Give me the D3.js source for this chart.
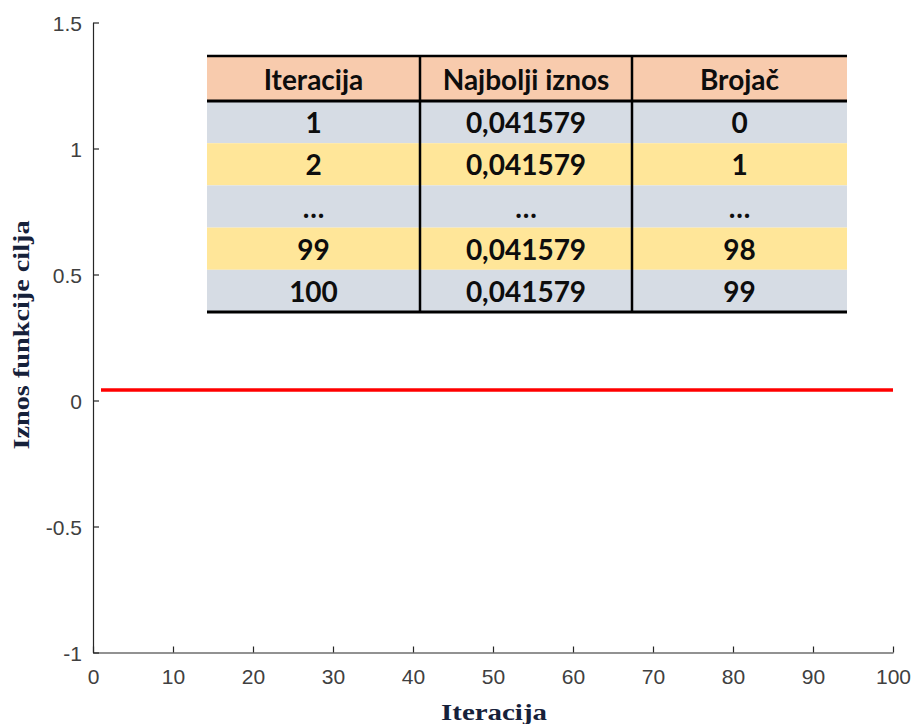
<!DOCTYPE html>
<html>
<head>
<meta charset="utf-8">
<script src="https://cdn.jsdelivr.net/npm/d3@7"></script>
<style>
  html, body { margin: 0; padding: 0; background: #ffffff; }
  svg { display: block; }
</style>
</head>
<body>
<script>
// ---------- data ----------
const lineIterations = [1, 2, 99, 100];
const lineValues = [0.041579, 0.041579, 0.041579, 0.041579];

const xTicks = [0, 10, 20, 30, 40, 50, 60, 70, 80, 90, 100];
const yTicks = [-1, -0.5, 0, 0.5, 1, 1.5];
const yTickLabels = ["-1", "-0.5", "0", "0.5", "1", "1.5"];

const xTitle = "Iteracija";
const yTitle = "Iznos funkcije cilja";

const tableHeaders = ["Iteracija", "Najbolji iznos", "Brojač"];
const tableIteration = ["1", "2", "...", "99", "100"];
const tableBest = ["0,041579", "0,041579", "...", "0,041579", "0,041579"];
const tableCounter = ["0", "1", "...", "98", "99"];

// ---------- setup ----------
const W = 914, H = 724;
const svg = d3.select("body").append("svg").attr("width", W).attr("height", H);

const x = d3.scaleLinear().domain([0, 100]).range([93, 893]);
const y = d3.scaleLinear().domain([-1, 1.5]).range([652.5, 22.5]);

const axisColor = "#262626";
const tickTextColor = "#404040";

// x axis
const gx = svg.append("g")
  .attr("transform", `translate(0,${y(-1)})`)
  .call(d3.axisBottom(x).tickValues(xTicks).tickSizeInner(-6).tickSizeOuter(0).tickPadding(17)
    .tickFormat(d3.format("d")));
// y axis
const gy = svg.append("g")
  .attr("transform", `translate(${x(0)},0)`)
  .call(d3.axisLeft(y).tickValues(yTicks).tickSizeInner(-6).tickSizeOuter(0).tickPadding(11)
    .tickFormat((d, i) => yTickLabels[i]));

[gx, gy].forEach(g => {
  g.select(".domain").attr("stroke", axisColor).attr("stroke-width", 1.2);
  g.selectAll(".tick line").attr("stroke", axisColor).attr("stroke-width", 1.2);
  g.selectAll(".tick text")
    .attr("fill", tickTextColor)
    .style("font-family", "'Liberation Sans', Arial, sans-serif")
    .style("font-size", "21px");
});
gx.selectAll(".tick text").attr("dy", "0.71em");
gy.selectAll(".tick text").attr("dy", "0.36em");

// line
const line = d3.line().x((d, i) => x(lineIterations[i])).y(d => y(d));
svg.append("path")
  .datum(lineValues)
  .attr("d", line)
  .attr("fill", "none")
  .attr("stroke", "#ff0000")
  .attr("stroke-width", 3.5);

// axis titles
svg.append("text")
  .attr("x", 494).attr("y", 720)
  .attr("text-anchor", "middle")
  .attr("textLength", 106).attr("lengthAdjust", "spacingAndGlyphs")
  .style("font-family", "'Liberation Serif', 'Times New Roman', serif")
  .style("font-weight", "bold").style("font-size", "23px")
  .attr("fill", "#16213a")
  .text(xTitle);

svg.append("text")
  .attr("transform", "translate(29,335) rotate(-90)")
  .attr("text-anchor", "middle")
  .attr("textLength", 229).attr("lengthAdjust", "spacingAndGlyphs")
  .style("font-family", "'Liberation Serif', 'Times New Roman', serif")
  .style("font-weight", "bold").style("font-size", "23px")
  .attr("fill", "#16213a")
  .text(yTitle);

// ---------- table ----------
const tableLeft = 207, tableRight = 847;
const colEdges = [207, 420, 632, 847];
const headerTop = 56, headerBottom = 101;
const rowH = 42.2;
const rowFills = ["#d6dce4", "#ffe699", "#d6dce4", "#ffe699", "#d6dce4"];
const headerFill = "#f8cbad";
const tableRows = tableIteration.map((d, i) => [d, tableBest[i], tableCounter[i]]);

const tbl = svg.append("g");
tbl.append("rect")
  .attr("x", tableLeft).attr("y", headerTop)
  .attr("width", tableRight - tableLeft).attr("height", headerBottom - headerTop)
  .attr("fill", headerFill);

tbl.selectAll("rect.row").data(tableRows).enter().append("rect")
  .attr("class", "row")
  .attr("x", tableLeft).attr("y", (d, i) => headerBottom + i * rowH)
  .attr("width", tableRight - tableLeft).attr("height", rowH)
  .attr("fill", (d, i) => rowFills[i]);

const tableBottom = headerBottom + tableRows.length * rowH;

const textStyle = sel => sel
  .style("font-family", "Lato, 'Open Sans', sans-serif")
  .style("font-weight", "bold")
  .style("font-size", "28px")
  .attr("fill", "#0d0d0d")
  .attr("text-anchor", "middle");

tbl.selectAll("text.hdr").data(tableHeaders).enter().append("text")
  .attr("class", "hdr")
  .attr("x", (d, i) => (colEdges[i] + colEdges[i + 1]) / 2)
  .attr("y", (headerTop + headerBottom) / 2 + 11)
  .call(textStyle)
  .text(d => d);

tableRows.forEach((row, r) => {
  tbl.selectAll(null).data(row).enter().append("text")
    .attr("x", (d, i) => (colEdges[i] + colEdges[i + 1]) / 2)
    .attr("y", headerBottom + r * rowH + rowH / 2 + 11)
    .call(textStyle)
    .text(d => d === "..." ? "\u2026" : d);
});

// borders
tbl.append("line").attr("x1", tableLeft).attr("x2", tableRight)
  .attr("y1", headerTop).attr("y2", headerTop).attr("stroke", "#000").attr("stroke-width", 2.5);
tbl.append("line").attr("x1", tableLeft).attr("x2", tableRight)
  .attr("y1", headerBottom).attr("y2", headerBottom).attr("stroke", "#000").attr("stroke-width", 3);
tbl.append("line").attr("x1", tableLeft).attr("x2", tableRight)
  .attr("y1", tableBottom).attr("y2", tableBottom).attr("stroke", "#000").attr("stroke-width", 3);
tbl.selectAll("line.vsep").data(colEdges.slice(1, 3)).enter().append("line")
  .attr("class", "vsep")
  .attr("x1", d => d).attr("x2", d => d)
  .attr("y1", headerTop).attr("y2", tableBottom)
  .attr("stroke", "#000").attr("stroke-width", 2.5);
</script>
</body>
</html>
